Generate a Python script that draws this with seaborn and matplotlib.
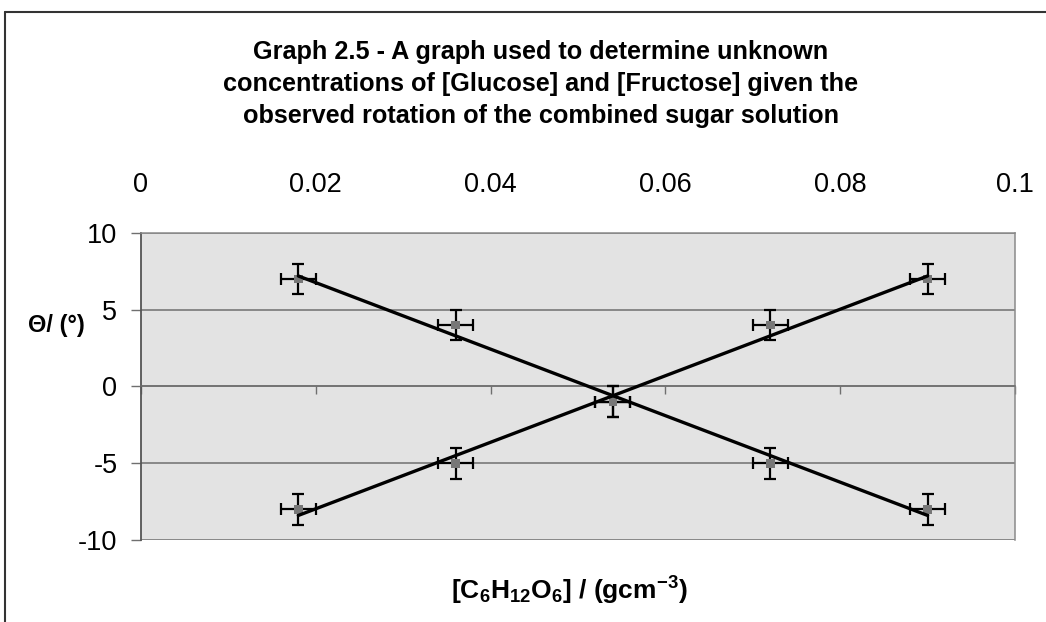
import matplotlib
matplotlib.use("Agg")
import matplotlib.pyplot as plt
import seaborn as sns
import pandas as pd
from matplotlib.lines import Line2D

# data
conc = [0.018, 0.036, 0.054, 0.072, 0.09]
glucose_rot = [-8, -5, -1, 4, 7]
fructose_rot = [7, 4, -1, -5, -8]
x_err = 0.002
y_err = 1
x_ticks = [0, 0.02, 0.04, 0.06, 0.08, 0.1]
x_tick_labels = ["0", "0.02", "0.04", "0.06", "0.08", "0.1"]
y_ticks = [-10, -5, 0, 5, 10]

sns.set_theme(style="white")
plt.rcParams["font.family"] = ["Liberation Sans", "DejaVu Sans"]
plt.rcParams["axes.unicode_minus"] = False
plt.rcParams["text.color"] = "black"
plt.rcParams["axes.labelcolor"] = "black"
plt.rcParams["xtick.labelcolor"] = "black"
plt.rcParams["ytick.labelcolor"] = "black"
plt.rcParams["mathtext.fontset"] = "custom"
plt.rcParams["mathtext.rm"] = "Liberation Sans:bold"
plt.rcParams["mathtext.bf"] = "Liberation Sans:bold"
plt.rcParams["mathtext.it"] = "Liberation Sans:bold"
plt.rcParams["mathtext.default"] = "bf"

df = pd.DataFrame({
    "conc": conc + conc,
    "rot": glucose_rot + fructose_rot,
    "sugar": ["Glucose"] * len(conc) + ["Fructose"] * len(conc),
})

fig = plt.figure(figsize=(10.46, 6.22), dpi=100)
ax = fig.add_axes([141 / 1046, 1 - 540 / 622, 874 / 1046, 307 / 622])
ax.set_facecolor("#e3e3e3")

# error bars
ax.errorbar(df["conc"], df["rot"], xerr=x_err, yerr=y_err, fmt="none",
            ecolor="black", elinewidth=1.6, capsize=4, capthick=1.6, zorder=3)

# markers
sns.scatterplot(data=df, x="conc", y="rot", ax=ax, color="#777777",
                marker="s", s=40, edgecolor="none", legend=False, zorder=4)

# linear trend lines
for name in ["Glucose", "Fructose"]:
    sub = df[df["sugar"] == name]
    sns.regplot(data=sub, x="conc", y="rot", ax=ax, scatter=False, ci=None,
                truncate=True, line_kws={"color": "black", "lw": 2.4, "zorder": 5})

ax.set_xlim(0, 0.1)
ax.set_ylim(-10, 10)
ax.set_xticks(x_ticks)
ax.set_xticklabels(x_tick_labels)
ax.set_yticks(y_ticks)

ax.grid(axis="y", color="#6f6f6f", lw=1.1)
ax.grid(axis="x", visible=False)
ax.set_axisbelow(True)

for side in ["top", "right"]:
    ax.spines[side].set_color("#8a8a8a")
    ax.spines[side].set_linewidth(1.1)
ax.spines["left"].set_color("#555555")
ax.spines["left"].set_linewidth(1.3)
ax.spines["bottom"].set_position(("data", 0))
ax.spines["bottom"].set_color("#6f6f6f")
ax.spines["bottom"].set_linewidth(1.1)

ax.tick_params(axis="x", bottom=True, top=False, labelbottom=False, labeltop=True,
               direction="out", length=6, width=1, color="#6f6f6f",
               labelsize=19.5, pad=19)
ax.tick_params(axis="y", left=True, direction="out", length=7, width=1,
               color="#6f6f6f", labelsize=19.5, pad=10)

ax.set_xlabel(r"[C$_6$H$_{12}$O$_6$] / (gcm$^{-3}$)", fontsize=19,
              fontweight="bold", va="center")
ax.xaxis.set_label_coords(0.49, -0.165)
ax.set_ylabel("Θ/ (°)", fontsize=17, fontweight="bold", rotation=0,
              ha="center", va="center")
ax.yaxis.set_label_coords(-0.097, 0.70)

fig.text(541 / 1046, 1 - 84 / 622,
         "Graph 2.5 - A graph used to determine unknown\n"
         "concentrations of [Glucose] and [Fructose] given the\n"
         "observed rotation of the combined sugar solution",
         ha="center", va="center", fontsize=18.2, fontweight="bold",
         linespacing=1.42)

# chart border
fig.add_artist(Line2D([5 / 1046, 1], [1 - 12 / 622, 1 - 12 / 622],
                      color="#333333", lw=1.5))
fig.add_artist(Line2D([5 / 1046, 5 / 1046], [0, 1 - 12 / 622],
                      color="#333333", lw=1.5))

fig.savefig("out.png", dpi=100)
